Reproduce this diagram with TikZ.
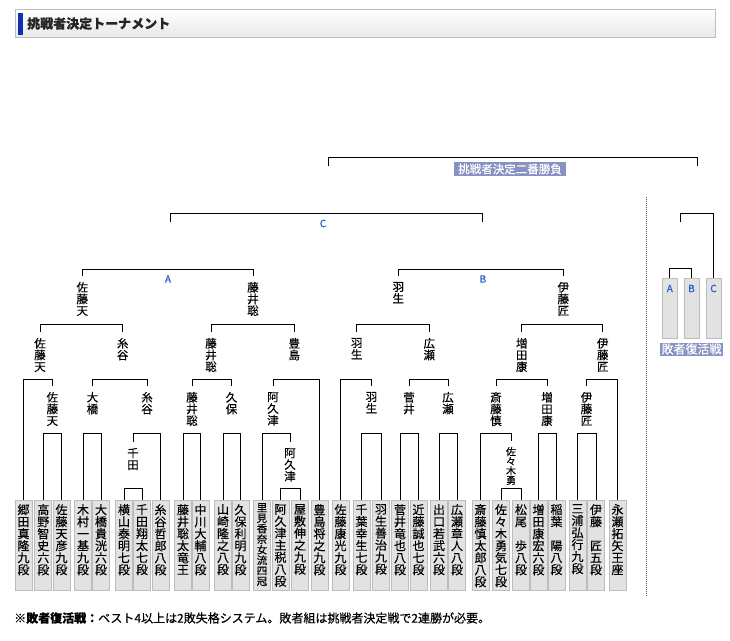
\documentclass[tikz,border=0pt]{standalone}
\usepackage{fontspec}
\setmainfont{Noto Sans CJK JP}[FakeBold=0.35]
\definecolor{boxf}{RGB}{226,226,226}
\definecolor{boxd}{RGB}{188,188,188}
\definecolor{tagf}{RGB}{136,146,194}
\definecolor{letb}{RGB}{40,90,200}
\definecolor{barb}{RGB}{16,48,176}
\definecolor{hdrd}{RGB}{190,190,190}
\newcommand\nb[3]{\node[nbox] (b#1) at (#2,500) {}; \node[nm] (t#1) at (#2,504) {#3};}
\begin{document}
\begin{tikzpicture}[x=1pt,y=-1pt,
  br/.style={line width=1pt, black},
  nbox/.style={draw=boxd, fill=boxf, line width=0.8pt, minimum width=17pt, minimum height=90pt, inner sep=0pt, anchor=north},
  nm/.style={anchor=north, inner sep=0pt, align=center, font=\fontsize{12}{12}\selectfont},
  wl/.style={anchor=north, inner sep=0pt, outer ysep=6pt, align=center, font=\fontsize{11.5}{11.7}\selectfont},
  let/.style={inner sep=0pt, text=letb, font=\fontsize{10}{10}\selectfont},
  tag/.style={fill=tagf, text=white, inner sep=0pt, font=\fontsize{11.5}{12}\selectfont},
  lbox/.style={draw=boxd, fill=boxf, line width=0.8pt, minimum width=15pt, minimum height=60pt, inner sep=0pt, anchor=north}]
\useasboundingbox (0,0) rectangle (730,640);
% header
\node[draw=hdrd, top color=white, bottom color=black!9, minimum width=700pt, minimum height=28pt, inner sep=0pt] (hdr) at (365,23.5) {};
\node[fill=barb, minimum width=5pt, minimum height=22pt, inner sep=0pt] (bar) at (20.5,23.5) {};
\node[anchor=west, inner sep=0pt, text=black!85, font=\fontsize{13}{13}\selectfont\bfseries] (title) at (27,23.5) {挑戦者決定トーナメント};
% name boxes
\nb{0}{23.5}{郷\\田\\真\\隆\\九\\段}
\nb{1}{43.3}{高\\野\\智\\史\\六\\段}
\nb{2}{61.5}{佐\\藤\\天\\彦\\九\\段}
\nb{3}{83}{木\\村\\一\\基\\九\\段}
\nb{4}{101}{大\\橋\\貴\\洸\\六\\段}
\nb{5}{124}{横\\山\\泰\\明\\七\\段}
\nb{6}{142}{千\\田\\翔\\太\\七\\段}
\nb{7}{160.5}{糸\\谷\\哲\\郎\\八\\段}
\nb{8}{183}{藤\\井\\聡\\太\\竜\\王}
\nb{9}{200.5}{中\\川\\大\\輔\\八\\段}
\nb{10}{223}{山\\崎\\隆\\之\\八\\段}
\nb{11}{240.5}{久\\保\\利\\明\\九\\段}
\node[nbox] (b12) at (262,500) {};
\node[nm, font=\fontsize{10.5}{10.5}\selectfont] (t12) at (262,503) {里\\見\\香\\奈\\女\\流\\四\\冠};
\nb{13}{280.5}{阿\\久\\津\\主\\税\\八\\段}
\nb{14}{300}{屋\\敷\\伸\\之\\九\\段}
\nb{15}{319.5}{豊\\島\\将\\之\\九\\段}
\nb{16}{340.5}{佐\\藤\\康\\光\\九\\段}
\nb{17}{361.5}{千\\葉\\幸\\生\\七\\段}
\nb{18}{381}{羽\\生\\善\\治\\九\\段}
\nb{19}{400}{菅\\井\\竜\\也\\八\\段}
\nb{20}{418.5}{近\\藤\\誠\\也\\七\\段}
\nb{21}{439}{出\\口\\若\\武\\六\\段}
\nb{22}{457}{広\\瀬\\章\\人\\八\\段}
\nb{23}{480.5}{斎\\藤\\慎\\太\\郎\\八\\段}
\nb{24}{501}{佐\\々\\木\\勇\\気\\七\\段}
\nb{25}{521}{松\\尾\\\phantom{歩}\\歩\\八\\段}
\nb{26}{538.5}{増\\田\\康\\宏\\六\\段}
\nb{27}{556.5}{稲\\葉\\\phantom{陽}\\陽\\八\\段}
\nb{28}{577.5}{三\\浦\\弘\\行\\九\\段}
\nb{29}{596}{伊\\藤\\\phantom{匠}\\匠\\五\\段}
\nb{30}{617.5}{永\\瀬\\拓\\矢\\王\\座}
% winner labels R1
\node[wl] (w1a) at (133,442) {千\\田};
\node[wl] (w1b) at (290,442) {阿\\久\\津};
\node[wl, font=\fontsize{10}{9.6}\selectfont] (w1c) at (511,441) {佐\\々\\木\\勇};
% R2
\node[wl] (w2a) at (52.4,386) {佐\\藤\\天};
\node[wl] (w2b) at (92.5,386) {大\\橋};
\node[wl] (w2c) at (147,386) {糸\\谷};
\node[wl] (w2d) at (192,386) {藤\\井\\聡};
\node[wl] (w2e) at (231.5,386) {久\\保};
\node[wl] (w2f) at (273,386) {阿\\久\\津};
\node[wl] (w2g) at (371.5,386) {羽\\生};
\node[wl] (w2h) at (409,386) {菅\\井};
\node[wl] (w2i) at (448,386) {広\\瀬};
\node[wl] (w2j) at (496,386) {斎\\藤\\慎};
\node[wl] (w2k) at (547,386) {増\\田\\康};
\node[wl] (w2l) at (586.5,386) {伊\\藤\\匠};
% R3
\node[wl] (w3a) at (40,332) {佐\\藤\\天};
\node[wl] (w3b) at (122.7,332) {糸\\谷};
\node[wl] (w3c) at (211,332) {藤\\井\\聡};
\node[wl] (w3d) at (294.3,332) {豊\\島};
\node[wl] (w3e) at (356.7,332) {羽\\生};
\node[wl] (w3f) at (429.3,332) {広\\瀬};
\node[wl] (w3g) at (521.7,332) {増\\田\\康};
\node[wl] (w3h) at (602.7,332) {伊\\藤\\匠};
% R4
\node[wl] (w4a) at (82.3,276) {佐\\藤\\天};
\node[wl] (w4b) at (253,276) {藤\\井\\聡};
\node[wl] (w4c) at (398.3,276) {羽\\生};
\node[wl] (w4d) at (563.3,276) {伊\\藤\\匠};
% bracket junctions
\coordinate (m1a) at (133,488.5); \coordinate (m1b) at (290,488.5); \coordinate (m1c) at (511,488.5);
\coordinate (m2a) at (52.4,433.5); \coordinate (m2b) at (92.5,433.5); \coordinate (m2c) at (147,433.5);
\coordinate (m2d) at (192,433.5); \coordinate (m2e) at (231.5,433.5); \coordinate (m2f) at (273,433.5);
\coordinate (m2g) at (371.5,433.5); \coordinate (m2h) at (409,433.5); \coordinate (m2i) at (448,433.5);
\coordinate (m2j) at (496,433.5); \coordinate (m2k) at (547,433.5); \coordinate (m2l) at (586.5,433.5);
\coordinate (m3a) at (40,379.5); \coordinate (m3b) at (122.7,379.5); \coordinate (m3c) at (211,379.5);
\coordinate (m3d) at (294.3,379.5); \coordinate (m3e) at (356.7,379.5); \coordinate (m3f) at (429.3,379.5);
\coordinate (m3g) at (521.7,379.5); \coordinate (m3h) at (602.7,379.5);
\coordinate (m4a) at (82.3,324.5); \coordinate (m4b) at (253,324.5); \coordinate (m4c) at (398.3,324.5); \coordinate (m4d) at (563.3,324.5);
\coordinate (mA) at (168,269.5); \coordinate (mB) at (481,269.5);
% R1
\draw[br] (b5.north) |- (m1a) -| (b6.north);
\draw[br] (b13.north) |- (m1b) -| (b14.north);
\draw[br] (b24.north) |- (m1c) -| (b25.north);
% R2
\draw[br] (b1.north) |- (m2a) -| (b2.north);
\draw[br] (b3.north) |- (m2b) -| (b4.north);
\draw[br] (w1a.north) |- (m2c) -| (b7.north);
\draw[br] (b8.north) |- (m2d) -| (b9.north);
\draw[br] (b10.north) |- (m2e) -| (b11.north);
\draw[br] (b12.north) |- (m2f) -| (w1b.north);
\draw[br] (b17.north) |- (m2g) -| (b18.north);
\draw[br] (b19.north) |- (m2h) -| (b20.north);
\draw[br] (b21.north) |- (m2i) -| (b22.north);
\draw[br] (b23.north) |- (m2j) -| (w1c.north);
\draw[br] (b26.north) |- (m2k) -| (b27.north);
\draw[br] (b28.north) |- (m2l) -| (b29.north);
% R3
\draw[br] (b0.north) |- (m3a) -| (w2a.north);
\draw[br] (w2b.north) |- (m3b) -| (w2c.north);
\draw[br] (w2d.north) |- (m3c) -| (w2e.north);
\draw[br] (w2f.north) |- (m3d) -| (b15.north);
\draw[br] (b16.north) |- (m3e) -| (w2g.north);
\draw[br] (w2h.north) |- (m3f) -| (w2i.north);
\draw[br] (w2j.north) |- (m3g) -| (w2k.north);
\draw[br] (w2l.north) |- (m3h) -| (b30.north);
% R4
\draw[br] (w3a.north) |- (m4a) -| (w3b.north);
\draw[br] (w3c.north) |- (m4b) -| (w3d.north);
\draw[br] (w3e.north) |- (m4c) -| (w3f.north);
\draw[br] (w3g.north) |- (m4d) -| (w3h.north);
% A / B
\draw[br] (w4a.north) |- (mA) -| (w4b.north);
\draw[br] (w4c.north) |- (mB) -| (w4d.north);
\node[let] (labA) at (168,279) {A};
\node[let] (labB) at (483,279) {B};
% C
\coordinate (cL) at (170.5,222); \coordinate (cR) at (482,222); \coordinate (mC) at (324,213.5);
\draw[br] (cL) |- (mC) -| (cR);
\node[let] (labC) at (323,223.5) {C};
% final
\coordinate (fL) at (328,166); \coordinate (fR) at (697,166); \coordinate (mF) at (512,157.5);
\draw[br] (fL) |- (mF) -| (fR);
\node[tag, minimum width=112pt, minimum height=14pt] (fin) at (510,169) {挑戦者決定二番勝負};
% dotted separator
\coordinate (d1) at (646,197); \coordinate (d2) at (646,596);
\draw[black!70, line width=1pt, dash pattern=on 1pt off 1pt] (d1) -- (d2);
% loser bracket
\node[lbox] (lA) at (669.8,278) {};
\node[lbox] (lB) at (691.5,278) {};
\node[lbox] (lC) at (713.5,278) {};
\node[let] (tA) at (669.8,288.5) {A};
\node[let] (tB) at (691.5,288.5) {B};
\node[let] (tC) at (713.5,288.5) {C};
\coordinate (mAB) at (680.5,268.5);
\draw[br] (lA.north) |- (mAB) -| (lB.north);
\coordinate (lt) at (680.5,222); \coordinate (mL) at (697,213.5);
\draw[br] (lt) |- (mL) -| (lC.north);
\node[tag, minimum width=63pt, minimum height=13pt, font=\fontsize{12}{12}\selectfont] (rep) at (691.5,349) {敗者復活戦};
% footer
\node[anchor=west, inner sep=0pt, font=\fontsize{12}{12}\selectfont] (foot) at (14,618) {\textbf{※敗者復活戦：}ベスト4以上は2敗失格システム。敗者組は挑戦者決定戦で2連勝が必要。};
\end{tikzpicture}
\end{document}
